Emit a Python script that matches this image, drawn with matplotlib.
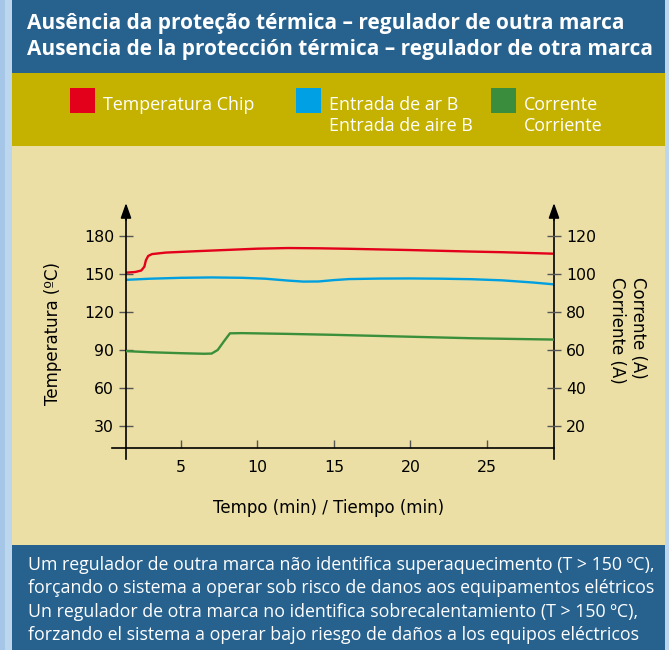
import matplotlib
matplotlib.use("Agg")
import matplotlib.pyplot as plt
from matplotlib.patches import Rectangle
from matplotlib.lines import Line2D

# data
red_x = [1.4, 2.0, 2.4, 2.6, 2.7, 2.85, 3.1, 4, 6, 8, 10, 12, 14, 16, 18, 20, 22, 24, 26, 28, 29.4]
red_temp = [151.3, 151.8, 153.0, 156, 161, 164.5, 166, 167.2, 168.3, 169.3, 170.3, 170.8, 170.6,
            170.2, 169.7, 169.2, 168.6, 168.0, 167.5, 166.8, 166.3]

blue_x = [1.4, 3, 5, 7, 9, 10.5, 12, 13, 14, 15, 16, 18, 20, 22, 24, 26, 28, 29.4]
blue_temp = [145.6, 146.5, 147.2, 147.5, 147.2, 146.5, 145.0, 144.2, 144.3, 145.4, 146.2, 146.6,
             146.7, 146.5, 146.1, 145.2, 143.5, 142.0]

green_x = [1.4, 3, 5, 6.5, 7.0, 7.4, 7.8, 8.2, 9, 12, 15, 18, 21, 24, 27, 29.4]
green_amp = [59.4, 58.8, 58.3, 58.0, 58.1, 60.0, 64.5, 68.8, 68.9, 68.5, 68.0, 67.4, 66.8, 66.2, 65.8, 65.5]

x_ticks = [5, 10, 15, 20, 25]
temp_ticks = [30, 60, 90, 120, 150, 180]
amp_ticks = [20, 40, 60, 80, 100, 120]

title_lines = ["Ausência da proteção térmica – regulador de outra marca",
               "Ausencia de la protección térmica – regulador de otra marca"]
legend_items = [("Temperatura Chip", "#e2001a"),
                ("Entrada de ar B\nEntrada de aire B", "#00a0e4"),
                ("Corrente\nCorriente", "#3a8d3c")]
footer_lines = ["Um regulador de outra marca não identifica superaquecimento (T > 150 ºC),",
                "forçando o sistema a operar sob risco de danos aos equipamentos elétricos",
                "Un regulador de otra marca no identifica sobrecalentamiento (T > 150 ºC),",
                "forzando el sistema a operar bajo riesgo de daños a los equipos eléctricos"]

W, H = 669, 650
fig = plt.figure(figsize=(W / 100, H / 100), dpi=100)
fig.patch.set_facecolor("#bcd6ee")


def px(x, y):
    # pixel coords (top-left origin) -> figure fraction
    return x / W, 1 - y / H


def band(x0, y0, x1, y1, color):
    fig.patches.append(Rectangle((x0 / W, 1 - y1 / H), (x1 - x0) / W, (y1 - y0) / H,
                                 transform=fig.transFigure, facecolor=color, edgecolor="none", zorder=-5))


# sky-ish strips at the edges
band(0, 0, 5, 650, "#a6c6e8")
band(12, 0, 665, 73, "#27628f")
band(12, 73, 665, 146, "#c5b200")
band(12, 146, 665, 545, "#ebdfa5")
band(12, 545, 665, 650, "#27628f")

# header
for i, line in enumerate(title_lines):
    fig.text(*px(27, 24 + i * 26), line, color="white", fontsize=15, fontweight="bold",
             family="Open Sans", va="center", ha="left")

# legend
leg_x = [70, 296, 491]
for (label, color), lx in zip(legend_items, leg_x):
    band(lx, 88.5, lx + 25, 112.5, color)
    fig.text(*px(lx + 33, 96), label, color="white", fontsize=12.9, family="Open Sans",
             va="top", ha="left", linespacing=1.22)

# footer
for i, line in enumerate(footer_lines):
    fig.text(*px(28, 565 + i * 23.3), line, color="white", fontsize=12.75, family="Open Sans",
             va="center", ha="left")

# axes
x0, x1, ytop, ybot = 126, 554, 203, 448
ax = fig.add_axes([x0 / W, (H - ybot) / H, (x1 - x0) / W, (ybot - ytop) / H])
ax.patch.set_alpha(0)
ax2 = ax.twinx()
ax.set_xlim(1.4, 29.4)
ax.set_ylim(12.3, 206.5)
ax2.set_ylim(12.3 * 2 / 3, 206.5 * 2 / 3)

ax.plot(red_x, red_temp, color="#e3001b", lw=1.7)
ax.plot(blue_x, blue_temp, color="#00a0e0", lw=1.7)
ax2.plot(green_x, green_amp, color="#3a8f3a", lw=1.7)

for a in (ax, ax2):
    for s in a.spines.values():
        s.set_visible(False)

tick_font = dict(family="DejaVu Sans", size=11.3)
ax.set_xticks(x_ticks)
ax.set_xticklabels([str(t) for t in x_ticks], **tick_font)
ax.set_yticks(temp_ticks)
ax.set_yticklabels([str(t) for t in temp_ticks], **tick_font)
ax2.set_yticks(amp_ticks)
ax2.set_yticklabels([str(t) for t in amp_ticks], **tick_font)
ax.tick_params(axis="x", direction="in", length=6, width=1, color="#555555", pad=9)
ax.tick_params(axis="y", direction="inout", length=9.5, width=1, color="#555555", pad=3.8)
ax2.tick_params(axis="y", direction="inout", length=9.5, width=1, color="#555555", pad=3.8)

# axis lines drawn by hand so they can run past the limits
ext_x = (x0 - 112) / (x1 - x0)
ext_y = (459 - ybot) / (ybot - ytop)
ax.add_line(Line2D([-ext_x, 1], [0, 0], transform=ax.transAxes, color="black", lw=1.2, clip_on=False))
for xv in (0, 1):
    ax.add_line(Line2D([xv, xv], [-ext_y, 0.94], transform=ax.transAxes, color="black", lw=1.2,
                       clip_on=False))
    ax.annotate("", xy=(xv, 1.0), xycoords="axes fraction", xytext=(xv, 0.93),
                arrowprops=dict(arrowstyle="-|>,head_length=0.9,head_width=0.32", color="black",
                                lw=1.2, shrinkA=0, shrinkB=0))

label_font = dict(family="DejaVu Sans", size=12)
fig.text(*px(53, 333), "Temperatura (ºC)", rotation=90, va="center", ha="center", **label_font)
fig.text(*px(638, 328), "Corrente (A)", rotation=270, va="center", ha="center", **label_font)
fig.text(*px(617, 330), "Corriente (A)", rotation=270, va="center", ha="center", **label_font)
fig.text(*px(329, 508), "Tempo (min) / Tiempo (min)", va="center", ha="center", **label_font)

fig.savefig("out.png", dpi=100)
